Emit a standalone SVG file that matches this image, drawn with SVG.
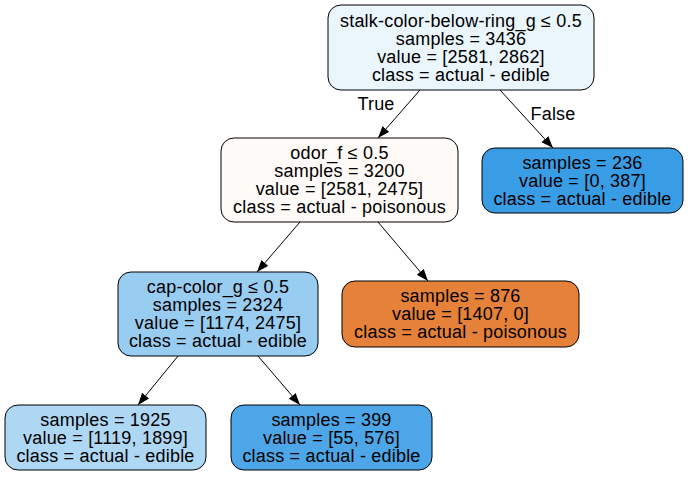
<svg xmlns="http://www.w3.org/2000/svg" width="688" height="477" viewBox="0 0 688 477">
<defs>
<style>
.n{stroke:#000;stroke-width:1}
text{font-family:"Liberation Sans",Arial,sans-serif;font-size:18px;letter-spacing:0.2px;fill:#000;text-anchor:middle}
.e{stroke:#000;stroke-width:1;fill:none;marker-end:url(#ah)}
</style>
<marker id="ah" markerUnits="userSpaceOnUse" markerWidth="13" markerHeight="10" refX="12" refY="4.5" orient="auto">
<path d="M0,0 L12,4.5 L0,9 z" fill="#000"/>
</marker>
</defs>
<rect width="688" height="477" fill="#fff"/>
<g id="edges">
<line class="e" x1="420" y1="90" x2="378" y2="138"/>
<line class="e" x1="500" y1="90" x2="553" y2="148"/>
<line class="e" x1="300" y1="222" x2="257" y2="272"/>
<line class="e" x1="378" y1="222" x2="428" y2="281"/>
<line class="e" x1="178" y1="356" x2="138" y2="405"/>
<line class="e" x1="258" y1="356" x2="300" y2="405"/>
<text x="376" y="110">True</text>
<text x="553" y="120">False</text>
</g>
<g id="node0">
<rect class="n" x="328" y="5" width="266" height="85" rx="13" fill="#ebf5fc"/>
<text x="461" y="27">stalk-color-below-ring_g ≤ 0.5</text>
<text x="461" y="45">samples = 3436</text>
<text x="461" y="63">value = [2581, 2862]</text>
<text x="461" y="81">class = actual - edible</text>
</g>
<g id="node1">
<rect class="n" x="221" y="138" width="237" height="84" rx="13" fill="#fefaf7"/>
<text x="339.5" y="159">odor_f ≤ 0.5</text>
<text x="339.5" y="177">samples = 3200</text>
<text x="339.5" y="195">value = [2581, 2475]</text>
<text x="339.5" y="213">class = actual - poisonous</text>
</g>
<g id="node2">
<rect class="n" x="482" y="148" width="201" height="65" rx="13" fill="#399de5"/>
<text x="582.5" y="168.5">samples = 236</text>
<text x="582.5" y="186.5">value = [0, 387]</text>
<text x="582.5" y="204.5">class = actual - edible</text>
</g>
<g id="node3">
<rect class="n" x="118" y="272" width="200" height="84" rx="13" fill="#98ccf1"/>
<text x="218" y="293">cap-color_g ≤ 0.5</text>
<text x="218" y="311">samples = 2324</text>
<text x="218" y="329">value = [1174, 2475]</text>
<text x="218" y="347">class = actual - edible</text>
</g>
<g id="node4">
<rect class="n" x="342" y="281" width="237" height="66" rx="13" fill="#e58139"/>
<text x="460.5" y="302">samples = 876</text>
<text x="460.5" y="320">value = [1407, 0]</text>
<text x="460.5" y="338">class = actual - poisonous</text>
</g>
<g id="node5">
<rect class="n" x="5" y="405" width="201" height="65" rx="13" fill="#aed7f4"/>
<text x="105.5" y="425.5">samples = 1925</text>
<text x="105.5" y="443.5">value = [1119, 1899]</text>
<text x="105.5" y="461.5">class = actual - edible</text>
</g>
<g id="node6">
<rect class="n" x="231" y="405" width="201" height="65" rx="13" fill="#4ca6e7"/>
<text x="331.5" y="425.5">samples = 399</text>
<text x="331.5" y="443.5">value = [55, 576]</text>
<text x="331.5" y="461.5">class = actual - edible</text>
</g>
</svg>
